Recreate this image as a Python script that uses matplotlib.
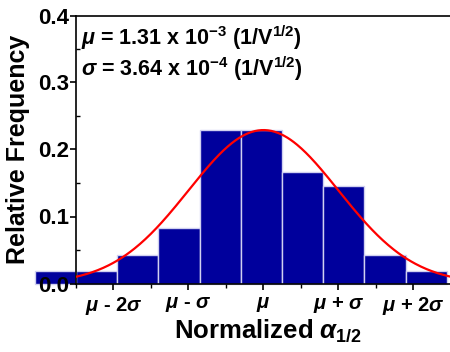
import numpy as np
import matplotlib
matplotlib.use("Agg")
import matplotlib.pyplot as plt
from matplotlib.ticker import MultipleLocator, FormatStrFormatter

plt.rcParams['font.family'] = ['Liberation Sans', 'DejaVu Sans']
plt.rcParams['font.weight'] = 'bold'
plt.rcParams['mathtext.fontset'] = 'custom'
plt.rcParams['mathtext.rm'] = 'Liberation Sans:bold'
plt.rcParams['mathtext.it'] = 'Liberation Sans:italic:bold'
plt.rcParams['mathtext.bf'] = 'Liberation Sans:bold'

# histogram of alpha_1/2 (units of 1e-3 1/V^1/2)
bin_edges = [0.2, 0.4, 0.6, 0.8, 1.0, 1.2, 1.4, 1.6, 1.8, 2.0, 2.2]
rel_freq = [0.019, 0.019, 0.042, 0.083, 0.229, 0.229, 0.167, 0.146, 0.042, 0.019]
mu = 1.31
sigma = 0.364
peak = 0.229
tick_labels = [r'$\mu$ - 2$\sigma$', r'$\mu$ - $\sigma$', r'$\mu$',
               r'$\mu$ + $\sigma$', r'$\mu$ + 2$\sigma$']

fig = plt.figure(figsize=(4.5, 3.52), dpi=100)
ax = fig.add_axes([76/450, 68.5/352, 384/450, 268/352])
ax.set_axisbelow(False)

left = np.array(bin_edges[:-1])
width = np.diff(bin_edges)
ax.bar(left, rel_freq, width=width, align='edge', color='#00009C',
       edgecolor='#D0D0F0', linewidth=1.0, clip_on=False, zorder=1)

xs = np.linspace(0.3, 2.4, 400)
ax.plot(xs, peak*np.exp(-0.5*((xs-mu)/sigma)**2), color='#FF0000', lw=1.6, zorder=3)

ax.set_xlim(0.4, 0.4 + 384/206)
ax.set_ylim(0, 0.4)

ax.set_xticks([mu + k*sigma for k in (-2, -1, 0, 1, 2)])
ax.set_xticklabels(tick_labels, fontsize=14.5)
ax.set_xticks([mu + (k+0.5)*sigma for k in (-3, -2, -1, 0, 1, 2)], minor=True)
ax.yaxis.set_major_locator(MultipleLocator(0.1))
ax.yaxis.set_minor_locator(MultipleLocator(0.05))
ax.yaxis.set_major_formatter(FormatStrFormatter('%.1f'))
ax.tick_params(axis='y', which='major', labelsize=16, width=1.2, length=4, direction='out', pad=1)
ax.tick_params(axis='y', which='minor', width=1, length=3, direction='in')
ax.tick_params(axis='x', which='major', width=1.2, length=4, direction='out', pad=4)
ax.tick_params(axis='x', which='minor', width=1, length=3, direction='out')

for s in ax.spines.values():
    s.set_linewidth(1.2)
ax.spines['right'].set_visible(False)

ax.set_ylabel('Relative Frequency', fontsize=18, fontweight='bold', labelpad=6)
ax.set_xlabel(r'Normalized $\alpha_{1/2}$', fontsize=18.5, fontweight='bold', labelpad=1)

ax.text(0.013, 0.97, r'$\mu$ = 1.31 x 10$^{-3}$ (1/V$^{1/2}$)', transform=ax.transAxes,
        fontsize=15.5, fontweight='bold', va='top', ha='left')
ax.text(0.013, 0.855, r'$\sigma$ = 3.64 x 10$^{-4}$ (1/V$^{1/2}$)', transform=ax.transAxes,
        fontsize=15.5, fontweight='bold', va='top', ha='left')

fig.savefig('out.png', dpi=100)
